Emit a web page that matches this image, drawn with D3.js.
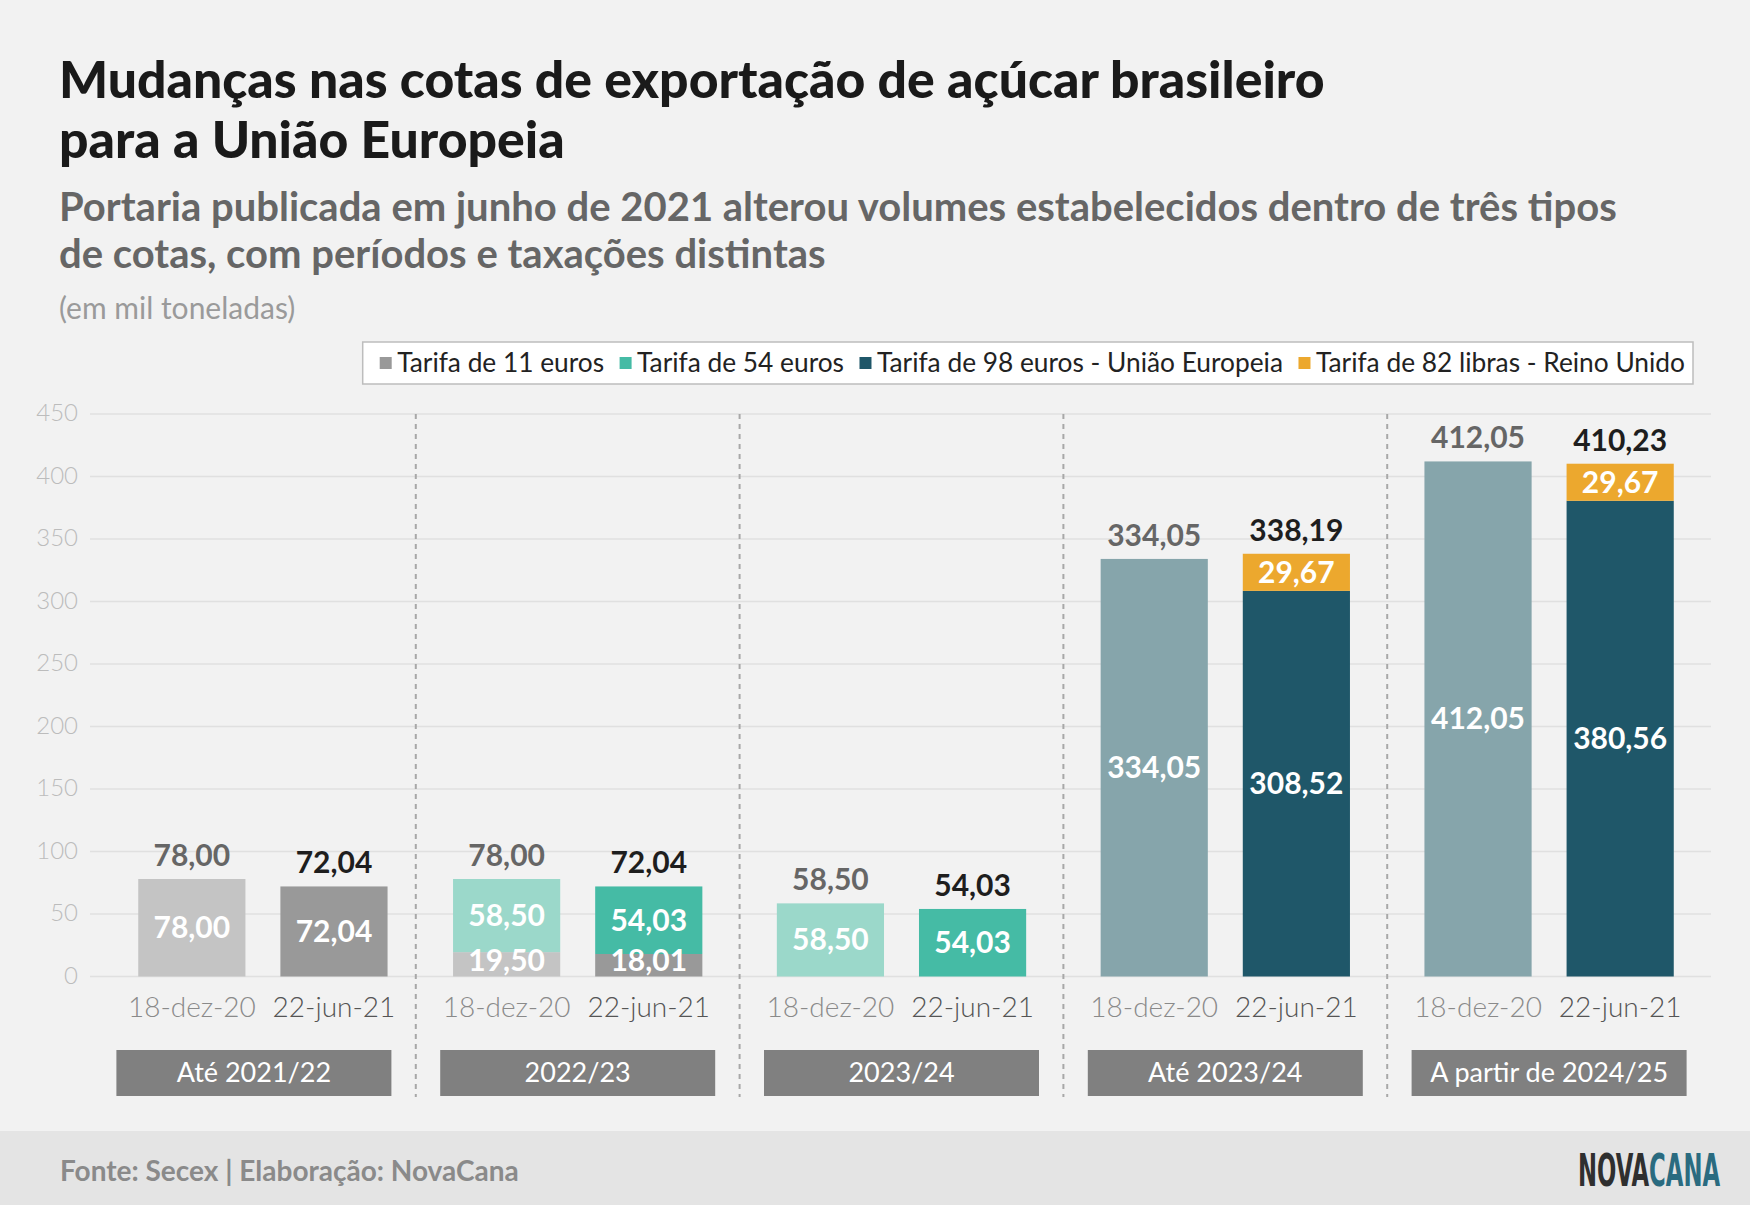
<!DOCTYPE html>
<html>
<head>
<meta charset="utf-8">
<script src="https://cdn.jsdelivr.net/npm/d3@7"></script>
<style>
  body { margin: 0; background: #f2f2f2; }
  svg { display: block; font-family: Lato, "Open Sans", sans-serif; }
</style>
</head>
<body>
<div id="chart"></div>
<script>
///////////////////////////////////////////////////////////////////////////
/////////////////////////////// Data //////////////////////////////////////
///////////////////////////////////////////////////////////////////////////

var groups = ["Até 2021/22", "2022/23", "2023/24", "Até 2023/24", "A partir de 2024/25"];
var dates = ["18-dez-20", "22-jun-21"];
var seriesNames = ["Tarifa de 11 euros", "Tarifa de 54 euros", "Tarifa de 98 euros - União Europeia", "Tarifa de 82 libras - Reino Unido"];

//one value per bar: 5 groups x 2 dates
var tarifa11 = [78.00, 72.04, 19.50, 18.01, 0, 0, 0, 0, 0, 0];
var tarifa54 = [0, 0, 58.50, 54.03, 58.50, 54.03, 0, 0, 0, 0];
var tarifa98 = [0, 0, 0, 0, 0, 0, 334.05, 308.52, 412.05, 380.56];
var tarifa82 = [0, 0, 0, 0, 0, 0, 0, 29.67, 0, 29.67];

var yTicks = [0, 50, 100, 150, 200, 250, 300, 350, 400, 450];

//[22-jun-21 colour, 18-dez-20 faded colour]
var seriesColors = [
	["#999999", "#c4c4c4"],
	["#45bba5", "#9bd8ca"],
	["#1f5769", "#86a5ab"],
	["#eca82e", "#f3c97a"]
];

///////////////////////////////////////////////////////////////////////////
/////////////////////////////// Setup /////////////////////////////////////
///////////////////////////////////////////////////////////////////////////

var width = 1750, height = 1205;
var plotLeft = 90, plotRight = 1711, plotTop = 414, plotBottom = 976.5;

var svg = d3.select("#chart").append("svg")
	.attr("width", width)
	.attr("height", height);

svg.append("rect").attr("width", width).attr("height", height).attr("fill", "#f2f2f2");

var pt = d3.formatLocale({decimal: ",", thousands: ".", grouping: [3], currency: ["R$", ""]}).format(".2f");

var bars = [];
groups.forEach(function(g, gi) {
	dates.forEach(function(d, di) {
		var i = gi*2 + di;
		bars.push({group: g, gi: gi, date: d, di: di, values: [tarifa11[i], tarifa54[i], tarifa98[i], tarifa82[i]]});
	});
});

var stack = d3.stack().keys([0, 1, 2, 3]).value(function(d, k) { return d.values[k]; });
var stacked = stack(bars);

var x0 = d3.scaleBand().domain(groups).range([plotLeft + 2, plotRight]);
var x1 = d3.scaleBand().domain(dates).range([0, x0.bandwidth()]).paddingInner(0.246).paddingOuter(0.262);
var y = d3.scaleLinear().domain([0, 450]).range([plotBottom, plotTop]);

//the first group sits a bit to the right of its band, next to the axis labels
var firstGroupShift = 9;

//////////////////////////////////////////////////////
//////////////////// Titles on top ///////////////////
//////////////////////////////////////////////////////

var titleWrapper = svg.append("g").attr("class", "titleWrapper");
titleWrapper.selectAll(".title")
	.data(["Mudanças nas cotas de exportação de açúcar brasileiro", "para a União Europeia"])
	.enter().append("text")
	.attr("x", 59)
	.attr("y", function(d, i) { return 98 + i*60; })
	.attr("fill", "#1a1a1a")
	.style("font-size", "51.7px")
	.style("font-weight", 900)
	.text(function(d) { return d; });

titleWrapper.selectAll(".subtitle")
	.data(["Portaria publicada em junho de 2021 alterou volumes estabelecidos dentro de três tipos", "de cotas, com períodos e taxações distintas"])
	.enter().append("text")
	.attr("x", 59)
	.attr("y", function(d, i) { return 221 + i*47; })
	.attr("fill", "#666666")
	.style("font-size", "40px")
	.style("font-weight", 700)
	.text(function(d) { return d; });

titleWrapper.append("text")
	.attr("x", 59)
	.attr("y", 319)
	.attr("fill", "#9a9a9a")
	.style("font-size", "30px")
	.style("font-weight", 400)
	.text("(em mil toneladas)");

//////////////////////////////////////////////////////
/////////////////////// Legend ///////////////////////
//////////////////////////////////////////////////////

var legendWrapper = svg.append("g").attr("class", "legendWrapper");
var legendBox = legendWrapper.append("rect")
	.attr("y", 342).attr("height", 42)
	.attr("fill", "#ffffff")
	.attr("stroke", "#bdbdbd")
	.attr("stroke-width", 1.5);

var legendItems = legendWrapper.selectAll(".legendItem")
	.data(seriesNames)
	.enter().append("g")
	.attr("class", "legendItem");
legendItems.append("rect")
	.attr("y", 357).attr("width", 12).attr("height", 12)
	.attr("fill", function(d, i) { return seriesColors[i][0]; });
legendItems.append("text")
	.attr("x", 17.5)
	.attr("y", 363)
	.attr("dy", "0.35em")
	.attr("fill", "#222222")
	.style("font-size", "26.3px")
	.text(function(d) { return d; });

var legendX = 0, legendPos = [];
legendItems.each(function(d, i) {
	legendPos.push(legendX);
	legendX += 17.5 + d3.select(this).select("text").node().getComputedTextLength() + 15.5;
});
var legendWidth = legendX - 15.5 + 17 + 8;
var legendLeft = 1693 - legendWidth;
legendBox.attr("x", legendLeft).attr("width", legendWidth);
legendItems.attr("transform", function(d, i) { return "translate(" + (legendLeft + 17 + legendPos[i]) + ",0)"; });

//////////////////////////////////////////////////////
//////////////////////// Axes ////////////////////////
//////////////////////////////////////////////////////

var axisWrapper = svg.append("g").attr("class", "axisWrapper");
axisWrapper.selectAll(".grid")
	.data(yTicks)
	.enter().append("line")
	.attr("x1", plotLeft).attr("x2", plotRight)
	.attr("y1", function(d) { return y(d); })
	.attr("y2", function(d) { return y(d); })
	.style("stroke", "#e0e0e0")
	.style("stroke-width", 1.5);

axisWrapper.selectAll(".tickLabel")
	.data(yTicks)
	.enter().append("text")
	.attr("x", 78)
	.attr("y", function(d) { return y(d); })
	.attr("dy", "0.3em")
	.style("text-anchor", "end")
	.attr("fill", "#bcbcbc")
	.style("font-size", "24px")
	.style("font-weight", 300)
	.text(function(d) { return d; });

//dashed dividers between the groups
axisWrapper.selectAll(".divider")
	.data(groups.slice(1))
	.enter().append("line")
	.attr("x1", function(d) { return x0(d); })
	.attr("x2", function(d) { return x0(d); })
	.attr("y1", plotTop)
	.attr("y2", 1097)
	.style("stroke", "#a8a8a8")
	.style("stroke-width", 2)
	.style("stroke-dasharray", "5,5");

//////////////////////////////////////////////////////
//////////////////////// Bars ////////////////////////
//////////////////////////////////////////////////////

var barWrapper = svg.append("g").attr("class", "barWrapper");
var rectLayer = barWrapper.append("g"),
	labelLayer = barWrapper.append("g");
function barX(d) { return x0(d.group) + x1(d.date) + (d.gi === 0 ? firstGroupShift : 0); }

stacked.forEach(function(layer, k) {
	var segs = layer.filter(function(s) { return s[1] - s[0] > 0; });
	rectLayer.selectAll(".seg" + k)
		.data(segs)
		.enter().append("rect")
		.attr("x", function(s) { return barX(s.data); })
		.attr("width", x1.bandwidth())
		.attr("y", function(s) { return y(s[1]); })
		.attr("height", function(s) { return y(s[0]) - y(s[1]); })
		.attr("fill", function(s) { return seriesColors[k][s.data.di === 0 ? 1 : 0]; });

	//centred in the segment, but kept clear of the baseline for thin segments
	labelLayer.selectAll(".segLabel" + k)
		.data(segs)
		.enter().append("text")
		.attr("x", function(s) { return barX(s.data) + x1.bandwidth()/2; })
		.attr("y", function(s) { return Math.min((y(s[0]) + y(s[1]))/2, y(0) - 16); })
		.attr("dy", "0.35em")
		.style("text-anchor", "middle")
		.attr("fill", "#ffffff")
		.style("font-size", "30px")
		.style("font-weight", 700)
		.text(function(s) { return pt(s[1] - s[0]); });
});

//totals on top
labelLayer.selectAll(".total")
	.data(bars)
	.enter().append("text")
	.attr("x", function(d) { return barX(d) + x1.bandwidth()/2; })
	.attr("y", function(d) { return y(d3.sum(d.values)) - 13; })
	.style("text-anchor", "middle")
	.attr("fill", function(d) { return d.di === 0 ? "#666666" : "#1e1e1e"; })
	.style("font-size", "30px")
	.style("font-weight", 700)
	.text(function(d) { return pt(d3.sum(d.values)); });

//date labels
labelLayer.selectAll(".dateLabel")
	.data(bars)
	.enter().append("text")
	.attr("x", function(d) { return barX(d) + x1.bandwidth()/2; })
	.attr("y", 1017)
	.style("text-anchor", "middle")
	.attr("fill", function(d) { return d.di === 0 ? "#8a8a8a" : "#555555"; })
	.style("font-size", "28px")
	.style("font-weight", 300)
	.text(function(d) { return d.date; });

//group boxes
var groupBox = barWrapper.selectAll(".groupBox")
	.data(groups)
	.enter().append("g");
groupBox.append("rect")
	.attr("x", function(d) { return x0(d) + x0.bandwidth()/2 - 137.5; })
	.attr("y", 1050)
	.attr("width", 275)
	.attr("height", 46)
	.attr("fill", "#808080");
groupBox.append("text")
	.attr("x", function(d) { return x0(d) + x0.bandwidth()/2; })
	.attr("y", 1073)
	.attr("dy", "0.35em")
	.style("text-anchor", "middle")
	.attr("fill", "#ffffff")
	.style("font-size", "27px")
	.text(function(d) { return d; });

//////////////////////////////////////////////////////
/////////////////////// Footer ///////////////////////
//////////////////////////////////////////////////////

svg.append("rect")
	.attr("x", 0).attr("y", 1131)
	.attr("width", width).attr("height", height - 1131)
	.attr("fill", "#e4e4e4");

svg.append("text")
	.attr("x", 60)
	.attr("y", 1181)
	.attr("fill", "#8a8a8a")
	.style("font-size", "28px")
	.style("font-weight", 700)
	.text("Fonte: Secex | Elaboração: NovaCana");

var logo = svg.append("text")
	.attr("x", 1578)
	.attr("y", 1186)
	.attr("textLength", 142)
	.attr("lengthAdjust", "spacingAndGlyphs")
	.style("font-family", "'DejaVu Sans Condensed', 'Liberation Sans Narrow', 'DejaVu Sans', sans-serif")
	.style("font-size", "45px")
	.style("font-weight", 700);
logo.append("tspan").attr("fill", "#2f2f2f").text("NOVA");
logo.append("tspan").attr("fill", "#2a6b80").text("CANA");
</script>
</body>
</html>
